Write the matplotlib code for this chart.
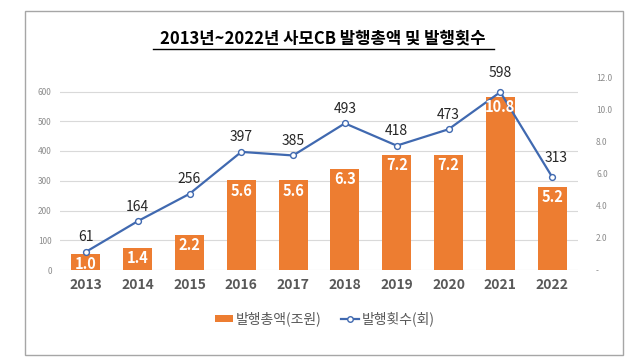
import matplotlib
matplotlib.use("Agg")
import matplotlib.pyplot as plt
from matplotlib.patches import Rectangle
from matplotlib.lines import Line2D
from matplotlib.patches import Patch

plt.rcParams['font.family'] = ['Noto Sans CJK KR', 'DejaVu Sans']

years = ['2013', '2014', '2015', '2016', '2017', '2018', '2019', '2020', '2021', '2022']
amount = [1.0, 1.4, 2.2, 5.6, 5.6, 6.3, 7.2, 7.2, 10.8, 5.2]          # 발행총액(조원)
count = [61, 164, 256, 397, 385, 493, 418, 473, 598, 313]            # 발행횟수(회)
left_ticks = [0, 100, 200, 300, 400, 500, 600]
right_ticks = [0, 2, 4, 6, 8, 10, 12]
right_labels = ['-', '2.0', '4.0', '6.0', '8.0', '10.0', '12.0']
title = '2013년~2022년 사모CB 발행총액 및 발행횟수'
bar_name = '발행총액(조원)'
line_name = '발행횟수(회)'

BAR_C = '#ED7D31'
LINE_C = '#4069B0'
TXT_C = '#595959'

fig = plt.figure(figsize=(6.4, 3.6), dpi=100)
fig.patch.set_facecolor('white')

# outer border
fig.patches.append(Rectangle((25 / 640, 1 - 355 / 360), (623 - 25) / 640, (355 - 11) / 360,
                             transform=fig.transFigure, fill=False, edgecolor='#a6a6a6',
                             linewidth=1.0))

ax = fig.add_axes([60 / 640, 1 - 270 / 360, (578 - 60) / 640, (270 - 77.7) / 360])
ax2 = ax.twinx()

x = list(range(len(years)))
left_top = (270 - 77.7) / 0.2975

# bars on right axis
ax2.bar(x, amount, width=0.56, color=BAR_C, zorder=2)
ax2.set_ylim(0, 12)
ax2.set_yticks(right_ticks)
ax2.set_yticklabels(right_labels)
ax2.tick_params(axis='y', length=0, pad=13, labelsize=6, labelcolor='#8c8c8c')

# line on left axis (draw above bars)
ax.set_zorder(ax2.get_zorder() + 1)
ax.patch.set_visible(False)
ax2.patch.set_visible(True)
ax2.patch.set_facecolor('white')

ax.plot(x, count, color=LINE_C, linewidth=1.6, marker='o', markersize=4.2,
        markerfacecolor='white', markeredgecolor=LINE_C, markeredgewidth=1.0, zorder=4)
ax.set_ylim(0, left_top)
ax.set_yticks(left_ticks)
ax.tick_params(axis='y', length=0, pad=6, labelsize=6, labelcolor='#8c8c8c')

# bar value labels, drawn in the top axes so they sit above the line
for xi, v in zip(x, amount):
    ax.annotate(f'{v:.1f}', xy=(xi, v), xycoords=ax2.transData, xytext=(0, -7.5),
                textcoords='offset points', ha='center', va='center', color='white',
                fontsize=10.5, fontweight='bold', zorder=7)

offsets = {8: (0, 13.7), 9: (3, 13.5)}
for i, (xi, v) in enumerate(zip(x, count)):
    off = offsets.get(i, (0, 10.5))
    ax.annotate(f'{v}', (xi, v), xytext=off, textcoords='offset points',
                ha='center', va='center', color='#262626', fontsize=10, zorder=6)

# gridlines at left-axis ticks, behind bars
for tk in left_ticks:
    ax2.axhline(tk * 12 / left_top, color='#d9d9d9', linewidth=0.8, zorder=0)

ax.set_xlim(-0.5, len(years) - 0.5)
ax.set_xticks(x)
ax.set_xticklabels(years, fontsize=10, fontweight='bold', color=TXT_C)
ax.tick_params(axis='x', length=0, pad=6)

for a in (ax, ax2):
    for s in a.spines.values():
        s.set_visible(False)

# title
fig.text(323 / 640, 1 - 39 / 360, title, ha='center', va='center', fontsize=12,
         fontweight='bold', color='#000000')
fig.add_artist(Line2D([153 / 640, 494 / 640], [1 - 48.5 / 360, 1 - 48.5 / 360],
                      transform=fig.transFigure, color='#000000', linewidth=1.0))

handles = [Patch(facecolor=BAR_C, edgecolor='none'),
           Line2D([0], [0], color=LINE_C, linewidth=1.6, marker='o', markersize=4,
                  markerfacecolor='white', markeredgecolor=LINE_C)]
fig.legend(handles, [bar_name, line_name], loc='center', bbox_to_anchor=(325 / 640, 1 - 319 / 360),
           ncol=2, frameon=False, fontsize=10, handlelength=1.3, handleheight=0.5,
           handletextpad=0.2, columnspacing=1.4, labelcolor=TXT_C)

fig.savefig('out.png', dpi=100, facecolor='white')
